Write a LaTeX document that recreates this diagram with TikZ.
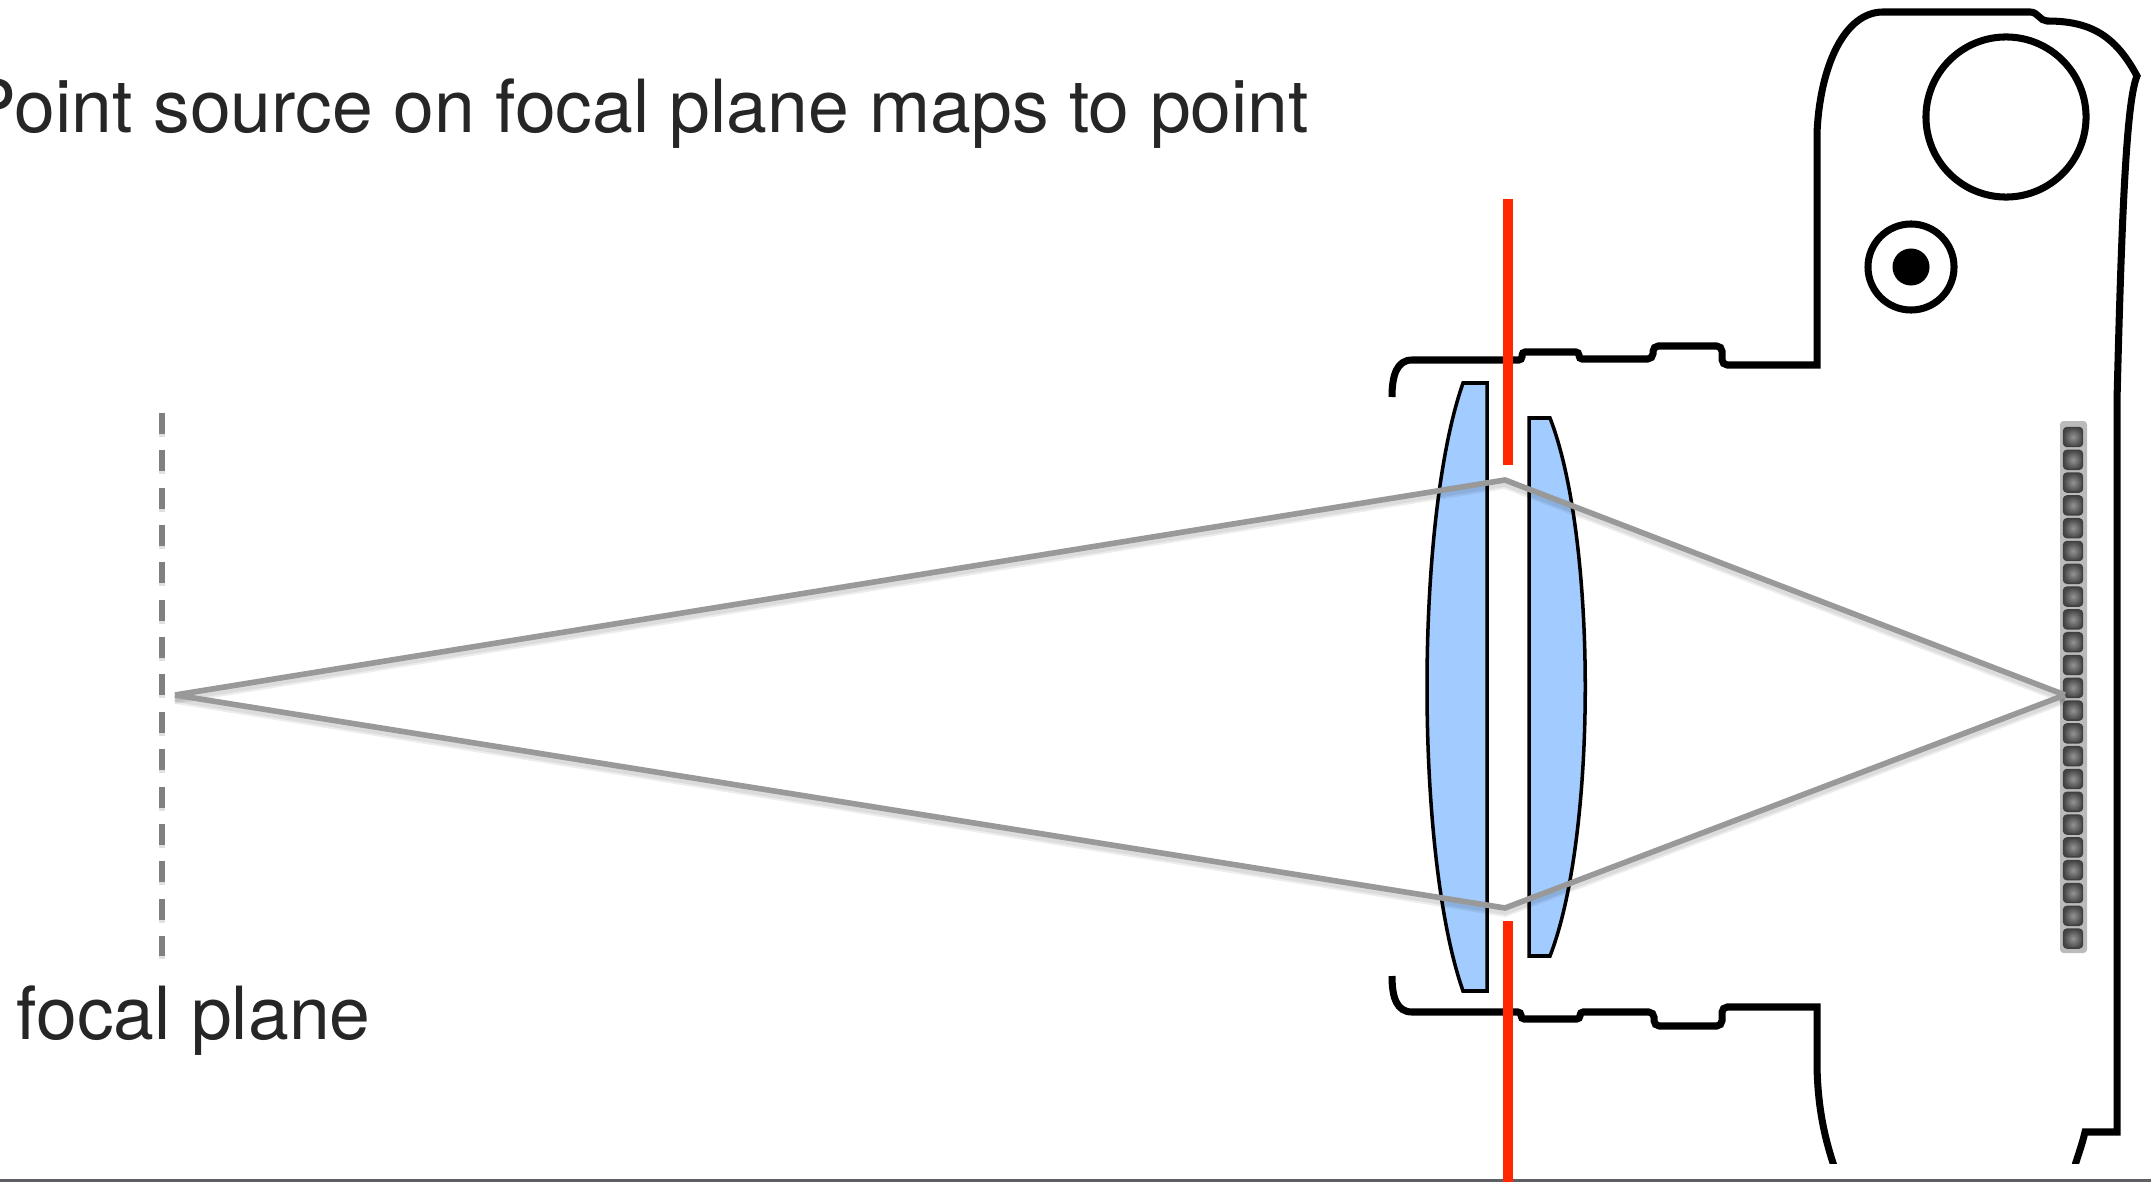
\documentclass[tikz,border=0pt]{standalone}
\usepackage{fontspec}
\setmainfont{TeX Gyre Heros}
\usetikzlibrary{positioning}

\definecolor{lensblue}{HTML}{A2CCFF}
\definecolor{stopred}{HTML}{FF2600}
\definecolor{raygray}{HTML}{999999}
\definecolor{planegray}{HTML}{808080}
\definecolor{stripgray}{HTML}{BBBBBB}
\definecolor{rulegray}{HTML}{5F5F66}

\begin{document}
\begin{tikzpicture}[
        x=0.01cm,
        y=-0.01cm,
        % Styles
        body/.style={draw=black, line width=2pt},
        lens/.style={draw=black, line width=1pt, fill=lensblue},
        stopbar/.style={draw=stopred, line width=3pt},
        ray/.style={draw=raygray, line width=1.6pt},
        rayshadow/.style={draw=black, opacity=0.07, line width=2.2pt},
        pixelcell/.style={rectangle, rounded corners=1pt, draw=black!75, line width=0.4pt,
            minimum width=0.19cm, minimum height=0.19cm, inner sep=0pt,
            inner color=black!42, outer color=black!72},
        caption/.style={anchor=base west, inner sep=0pt, font=\fontsize{20.85}{25}\selectfont, text=black!85}
    ]
    \useasboundingbox (0,0) rectangle (2151,1182);

    % --- Coordinates ---
    \coordinate (Source) at (175,695);   % Point on the focal plane
    \coordinate (BendTop) at (1505,480);
    \coordinate (BendBottom) at (1505,908);
    \coordinate (Hit) at (2065,695);     % Point on the sensor

    % --- 1. Camera Body ---
    \begin{scope}
        \clip (0,0) rectangle (2151,1163);
        \draw[body] (1392,397) .. controls (1392,375) and (1397,360) .. (1412,360)
            [rounded corners=0.9pt] -- (1522,360) -- (1522,352) -- (1579,352) -- (1579,359) -- (1610,359)
            [rounded corners=1.5pt] -- (1653,359) -- (1653,346) -- (1722,346) -- (1722,365)
            [sharp corners] -- (1817,365) -- (1817,133)
            .. controls (1820,65) and (1845,12) .. (1883,12) -- (2030,12)
            .. controls (2038,12) and (2040,21) .. (2047,21)
            .. controls (2090,21) and (2115,35) .. (2137,76)
            .. controls (2127,100) and (2122,200) .. (2117,400)
            -- (2117,1132) -- (2085,1132) .. controls (2082,1145) and (2078,1155) .. (2073,1172);
        \draw[body] (1392,976) .. controls (1392,998) and (1397,1012) .. (1412,1012)
            [rounded corners=0.9pt] -- (1521,1012) -- (1521,1019) -- (1580,1019) -- (1580,1012) -- (1610,1012)
            [rounded corners=1.5pt] -- (1654,1012) -- (1654,1026) -- (1722,1026) -- (1722,1007)
            [sharp corners] -- (1817,1007) -- (1817,1067)
            .. controls (1818,1110) and (1825,1140) .. (1836,1172);
    \end{scope}

    % Dial and button
    \node[circle, body, minimum size=1.6cm, inner sep=0pt] (Dial) at (2006,117) {};
    \node[circle, body, minimum size=0.86cm, inner sep=0pt] (Button) at (1911,267) {};
    \node[circle, fill=black, minimum size=0.37cm, inner sep=0pt] (ButtonDot) at (Button) {};

    % --- 2. Lenses ---
    \draw[lens] (1487,383) -- (1463,383)
        .. controls (1415,520) and (1415,854) .. (1463,991) -- (1487,991) -- cycle;
    \draw[lens] (1529,418) -- (1550,418)
        .. controls (1597,539) and (1597,835) .. (1550,956) -- (1529,956) -- cycle;

    % --- 3. Sensor ---
    \fill[stripgray, rounded corners=1pt] (2060,421) rectangle (2087,953);
    \foreach \i in {0,...,22}
        \node[pixelcell] (Cell\i) at (2073,437+22.8*\i) {};

    % --- 4. Focal Plane ---
    \draw[black, opacity=0.12, line width=1.8pt, dash pattern=on 0.21cm off 0.1633cm] (162,416) -- (162,959);
    \draw[planegray, line width=1.5pt, dash pattern=on 0.21cm off 0.1633cm] (162,413) -- (162,956);

    % --- 5. Rays ---
    % Soft shadow first, so it sits under the rays
    \begin{scope}[transform canvas={yshift=-0.05cm}]
        \draw[rayshadow] (Source) -- (BendTop) -- (Hit);
        \draw[rayshadow] (Source) -- (BendBottom) -- (Hit);
    \end{scope}
    \begin{scope}[transform canvas={yshift=-0.03cm}]
        \draw[rayshadow] (Source) -- (BendTop) -- (Hit);
        \draw[rayshadow] (Source) -- (BendBottom) -- (Hit);
    \end{scope}
    \draw[ray] (Source) -- (BendTop) -- (Hit);
    \draw[ray] (Source) -- (BendBottom) -- (Hit);

    % --- 6. Aperture Stop ---
    \coordinate (StopTopA) at (1508,199);
    \coordinate (StopTopB) at (1508,465);
    \coordinate (StopBottomA) at (1508,921);
    \coordinate (StopBottomB) at (1508,1182);
    \draw[rulegray, line width=0.85pt] (0,1180.5) -- (2151,1180.5);
    \draw[stopbar] (StopTopA) -- (StopTopB);
    \draw[stopbar] (StopBottomA) -- (StopBottomB);

    % --- 7. Labels ---
    \node[caption] (TitleText) at (-33,133) {Point source on focal plane maps to point};
    \node[caption] (PlaneText) at (16,1039) {focal plane};
\end{tikzpicture}
\end{document}
